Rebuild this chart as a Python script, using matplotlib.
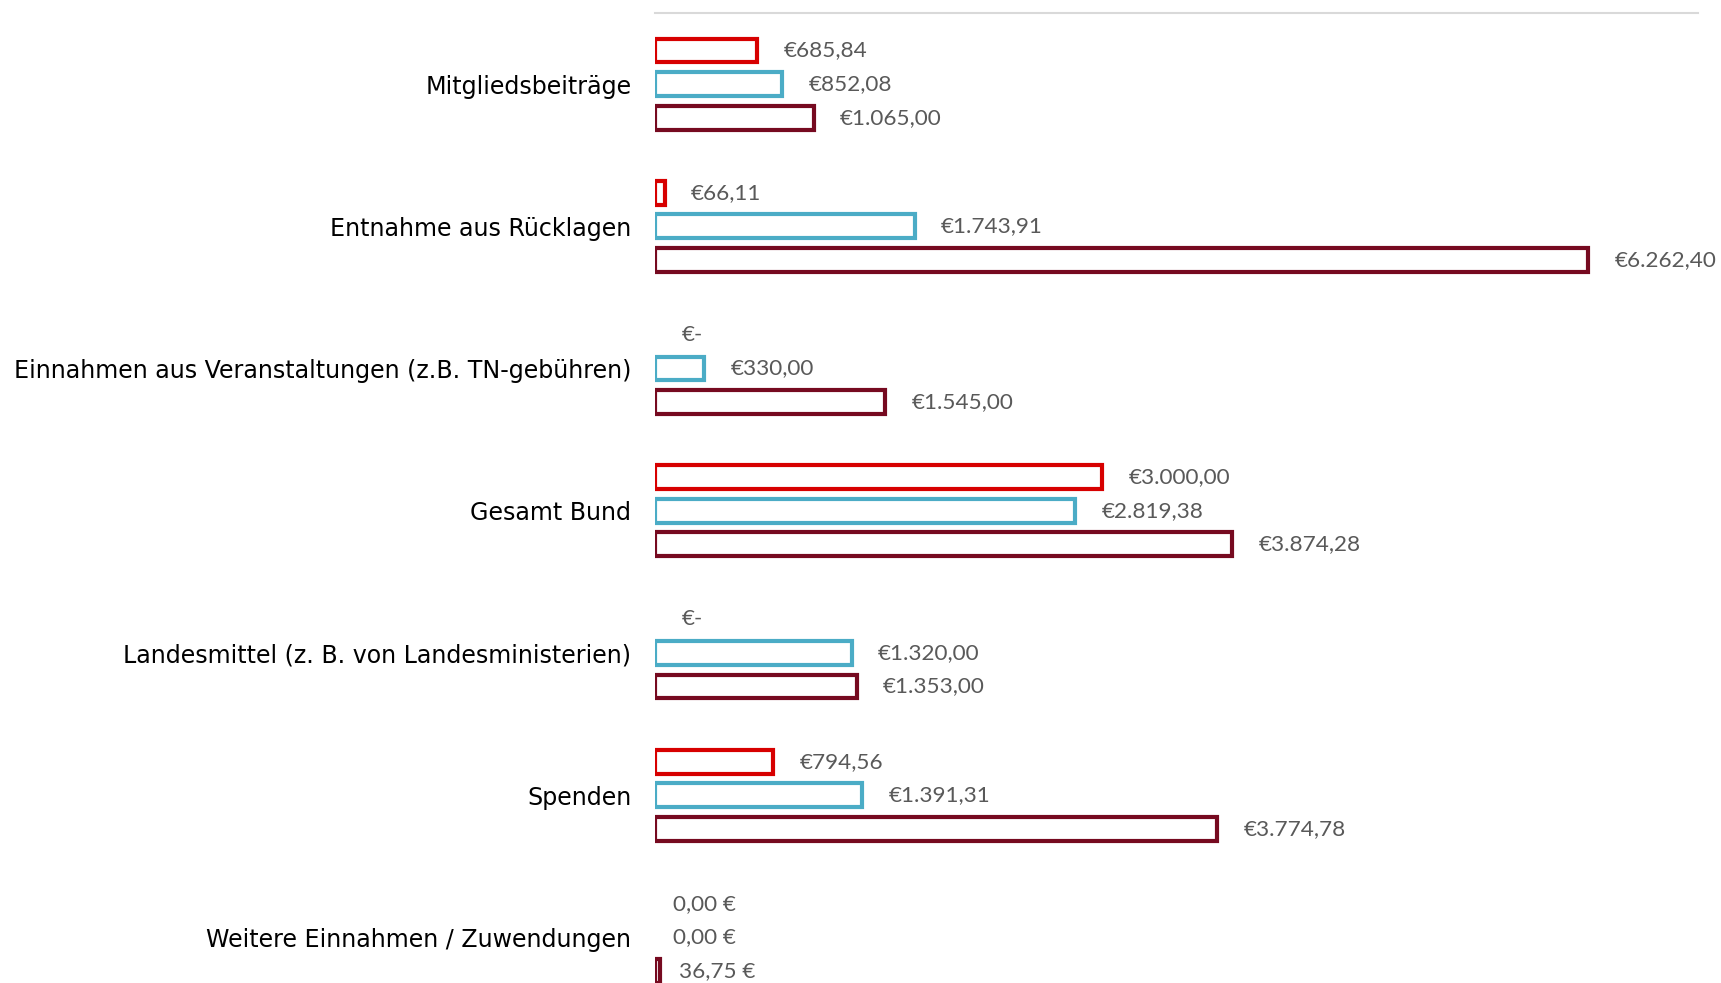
import numpy as np
import matplotlib
matplotlib.use('Agg')
import matplotlib.pyplot as plt

categories = ['Mitgliedsbeiträge', 'Entnahme aus Rücklagen',
              'Einnahmen aus Veranstaltungen (z.B. TN-gebühren)', 'Gesamt Bund',
              'Landesmittel (z. B. von Landesministerien)', 'Spenden',
              'Weitere Einnahmen / Zuwendungen']
red_vals = [685.84, 66.11, 0, 3000.00, 0, 794.56, 0]
cyan_vals = [852.08, 1743.91, 330.00, 2819.38, 1320.00, 1391.31, 0]
dark_vals = [1065.00, 6262.40, 1545.00, 3874.28, 1353.00, 3774.78, 36.75]
red_labels = ['€685,84', '€66,11', '€-', '€3.000,00', '€-', '€794,56', '0,00 €']
cyan_labels = ['€852,08', '€1.743,91', '€330,00', '€2.819,38', '€1.320,00', '€1.391,31', '0,00 €']
dark_labels = ['€1.065,00', '€6.262,40', '€1.545,00', '€3.874,28', '€1.353,00', '€3.774,78', '36,75 €']

COLORS = ['#D70000', '#4BACC6', '#760A20']
plt.rcParams['font.family'] = ['Lato', 'DejaVu Sans']

W, H = 1721, 983
fig = plt.figure(figsize=(W / 100, H / 100), dpi=100)
# axes runs a bit past the bottom edge, like the cropped original
top, ax_h = 13, 995.5
ax = fig.add_axes([655 / W, 1 - (top + ax_h) / H, 1043 / W, ax_h / H])

y = np.arange(len(categories))
step, bh = 0.236, 0.168
series = [(red_vals, red_labels, -step), (cyan_vals, cyan_labels, 0), (dark_vals, dark_labels, step)]
for (vals, labs, off), col in zip(series, COLORS):
    for i, (v, lab) in enumerate(zip(vals, labs)):
        if v > 0:
            ax.barh(y[i] + off, v, height=bh, color='white', edgecolor=col, linewidth=3.0)
        pad = 13 if i == len(categories) - 1 else 19
        ax.annotate(lab, (v, y[i] + off), xytext=(pad, 0), textcoords='offset points',
                    ha='left', va='center', fontsize=16.2, color='#595959')

ax.set_xlim(0, 7000)
ax.set_ylim(len(categories) - 0.5, -0.5)
ax.set_yticks(y)
ax.set_yticklabels(categories, fontsize=17.1, color='black', family='DejaVu Sans')
ax.tick_params(axis='y', length=0, pad=17)
ax.set_xticks([])
for sp in ['left', 'right', 'bottom']:
    ax.spines[sp].set_visible(False)
ax.spines['top'].set_color('#D9D9D9')
ax.spines['top'].set_linewidth(1.5)

fig.savefig('out.png', dpi=100)
